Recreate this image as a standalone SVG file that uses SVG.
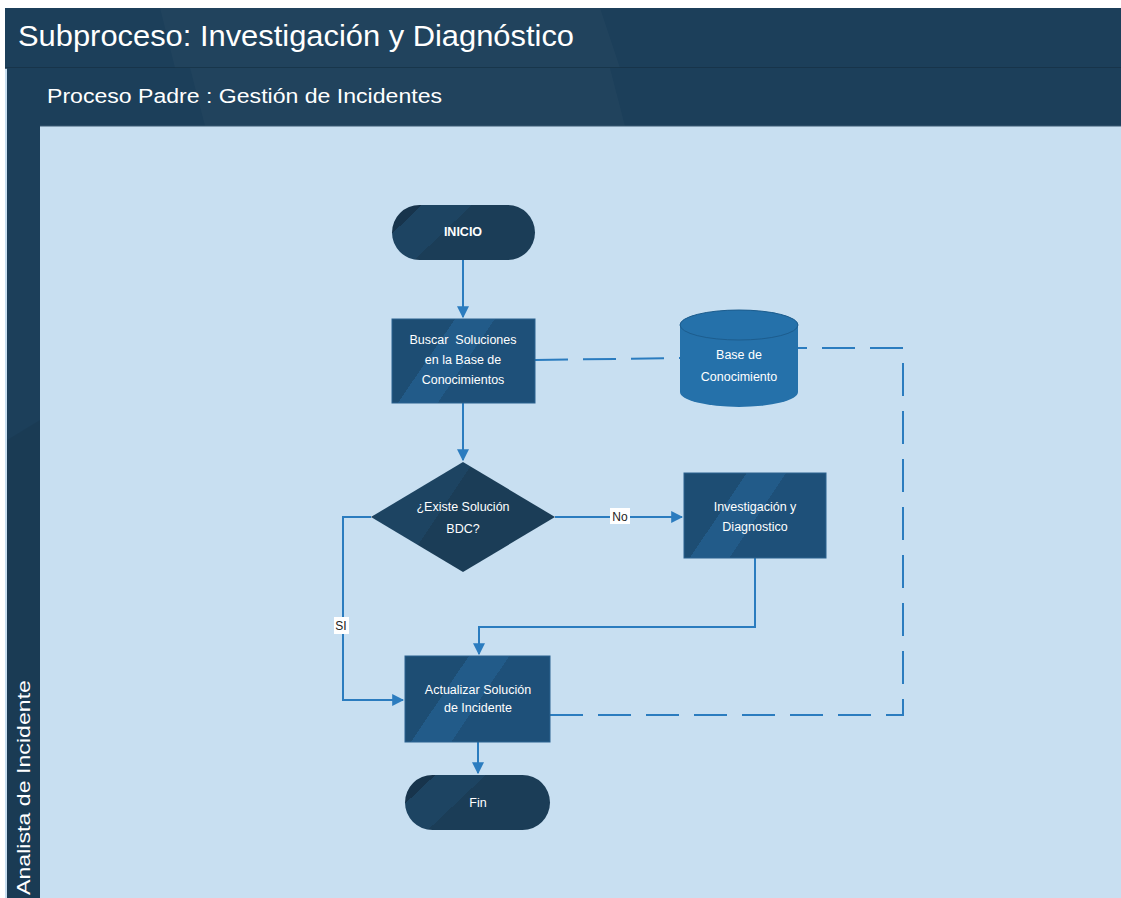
<svg xmlns="http://www.w3.org/2000/svg" width="1121" height="898" viewBox="0 0 1121 898">
  <style>
    .band { fill: #1c3f5a; }
    .hdr { font-family: "Liberation Sans Narrow", "Liberation Sans", Arial, sans-serif; fill: #ffffff; }
    .lbl { font-family: "Liberation Sans", Arial, sans-serif; font-size: 12.5px; fill: #ffffff; text-anchor: middle; white-space: pre; }
    .edge { fill: none; stroke: #2b7cbf; stroke-width: 2; }
    .dash { fill: none; stroke: #2b7cbf; stroke-width: 2; stroke-dasharray: 33 15; }
    .elbl { font-family: "Liberation Sans", Arial, sans-serif; font-size: 12px; fill: #222; text-anchor: middle; }
  </style>
  <defs>
    <!-- diagonal banding used for the process boxes -->
    <linearGradient id="gBox" x1="0" y1="0" x2="1" y2="0.4">
      <stop offset="0" stop-color="#1d4d73"/>
      <stop offset="0.38" stop-color="#1d4d73"/>
      <stop offset="0.38" stop-color="#225b89"/>
      <stop offset="0.62" stop-color="#225b89"/>
      <stop offset="0.62" stop-color="#1e5079"/>
      <stop offset="1" stop-color="#1e5079"/>
    </linearGradient>
    <!-- diagonal banding used for terminators and the decision -->
    <linearGradient id="gDark" x1="0" y1="0" x2="1" y2="0.4">
      <stop offset="0" stop-color="#17344c"/>
      <stop offset="0.18" stop-color="#17344c"/>
      <stop offset="0.18" stop-color="#1d4462"/>
      <stop offset="0.48" stop-color="#1d4462"/>
      <stop offset="0.48" stop-color="#1b3d57"/>
      <stop offset="1" stop-color="#1b3d57"/>
    </linearGradient>
    <marker id="arr" viewBox="0 0 10 10" refX="9" refY="5" markerWidth="6" markerHeight="6" orient="auto" markerUnits="strokeWidth">
      <path d="M0,0 L10,5 L0,10 z" fill="#2b7cbf"/>
    </marker>
  </defs>

  <!-- page -->
  <rect x="0" y="0" width="1121" height="898" fill="#ffffff"/>
  <rect x="5" y="8" width="1116" height="890" fill="#c8dff1"/>

  <!-- title band -->
  <rect class="band" x="5" y="8" width="1116" height="60"/>
  <polygon points="160,8 600,8 620,68 175,68" fill="#ffffff" opacity="0.025"/>
  <line x1="5" y1="68" x2="1121" y2="68" stroke="#163246" stroke-width="1.5"/>
  <text class="hdr" x="18" y="46" font-size="29" textLength="556" lengthAdjust="spacingAndGlyphs">Subproceso: Investigación y Diagnóstico</text>

  <!-- lane header band -->
  <rect class="band" x="38" y="68" width="1083" height="58"/>
  <polygon points="190,68 610,68 625,126 205,126" fill="#ffffff" opacity="0.025"/>
  <line x1="38" y1="126" x2="1121" y2="126" stroke="#3a5a73" stroke-width="1"/>
  <text class="hdr" x="47" y="103" font-size="20" textLength="395" lengthAdjust="spacingAndGlyphs">Proceso Padre : Gestión de Incidentes</text>

  <!-- lane label strip -->
  <rect class="band" x="7" y="68" width="33" height="830"/>
  <polygon points="7,440 40,420 40,898 7,898" fill="#000000" opacity="0.06"/>
  <text class="hdr" transform="translate(30,895) rotate(-90)" x="0" y="0" font-size="19" textLength="215" lengthAdjust="spacingAndGlyphs">Analista de Incidente</text>

  <!-- connectors -->
  <g id="connectors">
    <path class="edge" d="M463,260 L463,317" marker-end="url(#arr)"/>
    <path class="edge" d="M463,403 L463,460" marker-end="url(#arr)"/>
    <path class="edge" d="M555,517 L682,517" marker-end="url(#arr)"/>
    <path class="edge" d="M371,517 L343,517 L343,700 L403,700" marker-end="url(#arr)"/>
    <path class="edge" d="M755,558 L755,627 L479,627 L479,654" marker-end="url(#arr)"/>
    <path class="edge" d="M478,742 L478,773" marker-end="url(#arr)"/>
    <path class="dash" d="M535,360 L680,358"/>
    <path class="dash" d="M550,715 L903,715 L903,348 L798,348"/>
    <rect x="610" y="508" width="20" height="16" fill="#ffffff"/>
    <text class="elbl" x="620" y="521">No</text>
    <rect x="334" y="617" width="15" height="17" fill="#ffffff"/>
    <text class="elbl" x="341" y="630">SI</text>
  </g>

  <!-- nodes -->
  <g id="inicio">
    <rect x="392" y="205" width="143" height="55" rx="27.5" fill="url(#gDark)"/>
    <text class="lbl" x="463" y="236" font-weight="bold">INICIO</text>
  </g>

  <g id="buscar">
    <rect x="392" y="319" width="143" height="84" fill="url(#gBox)" stroke="#2a6290" stroke-width="1"/>
    <text class="lbl" x="463" y="344">Buscar  Soluciones</text>
    <text class="lbl" x="463" y="364">en la Base de</text>
    <text class="lbl" x="463" y="384">Conocimientos</text>
  </g>

  <g id="base-conocimiento">
    <path d="M680,325 L680,392 A59,15 0 0 0 798,392 L798,325 A59,15 0 0 0 680,325 z" fill="#2571aa"/>
    <ellipse cx="739" cy="325" rx="59" ry="15" fill="#2571aa" stroke="#1d5d8e" stroke-width="1"/>
    <text class="lbl" x="739" y="359">Base de</text>
    <text class="lbl" x="739" y="381">Conocimiento</text>
  </g>

  <g id="existe-solucion">
    <polygon points="463,462 555,517 463,572 371,517" fill="url(#gDark)"/>
    <text class="lbl" x="463" y="511">¿Existe Solución</text>
    <text class="lbl" x="463" y="533">BDC?</text>
  </g>

  <g id="investigacion">
    <rect x="684" y="473" width="142" height="85" fill="url(#gBox)" stroke="#2a6290" stroke-width="1"/>
    <text class="lbl" x="755" y="511">Investigación y</text>
    <text class="lbl" x="755" y="531">Diagnostico</text>
  </g>

  <g id="actualizar">
    <rect x="405" y="656" width="145" height="86" fill="url(#gBox)" stroke="#2a6290" stroke-width="1"/>
    <text class="lbl" x="478" y="694">Actualizar Solución</text>
    <text class="lbl" x="478" y="712">de Incidente</text>
  </g>

  <g id="fin">
    <rect x="405" y="775" width="145" height="55" rx="27.5" fill="url(#gDark)"/>
    <text class="lbl" x="478" y="807">Fin</text>
  </g>
</svg>
